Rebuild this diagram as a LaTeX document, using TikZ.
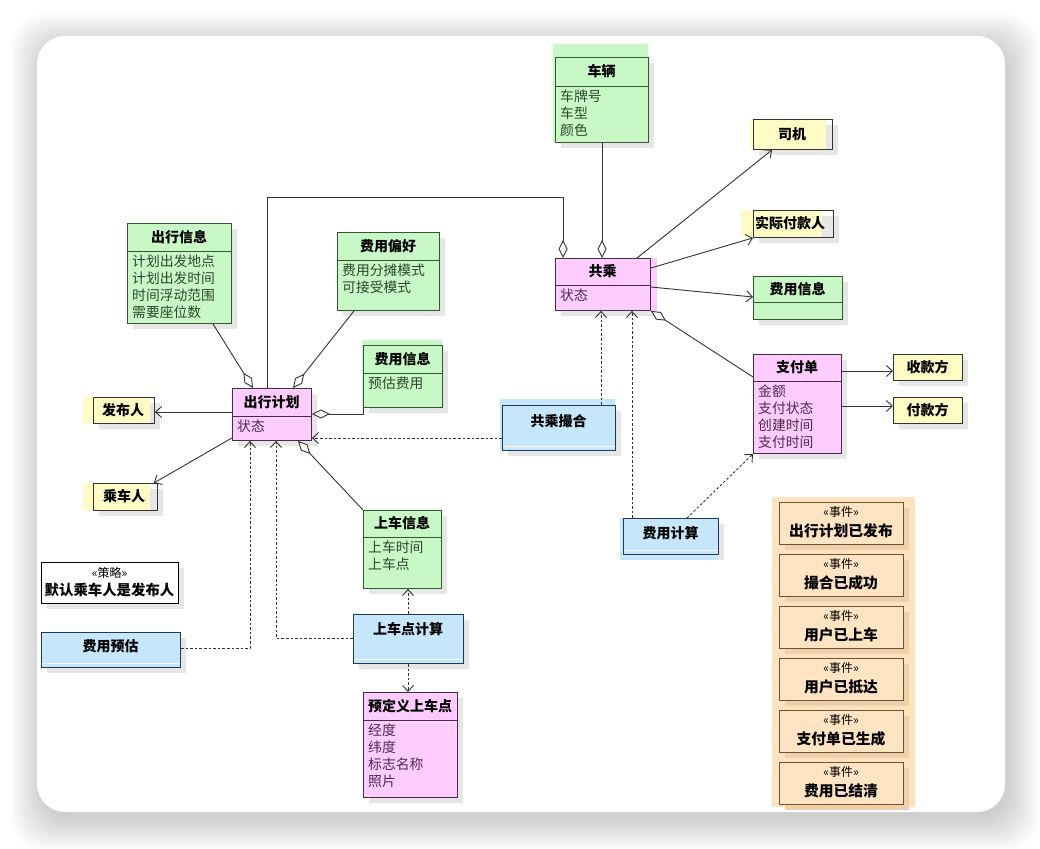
\documentclass[tikz,border=0pt]{standalone}
\usepackage{fontspec}
\setmainfont{Noto Sans CJK SC}
\usetikzlibrary{arrows.meta,calc}
\definecolor{gfill}{HTML}{C8F8C6}
\definecolor{gdraw}{HTML}{2F5A2F}
\definecolor{gtext}{HTML}{2E452E}
\definecolor{pfill}{HTML}{FFCCFF}
\definecolor{pdraw}{HTML}{4A2A4A}
\definecolor{ptext}{HTML}{4A2A4A}
\definecolor{yfill}{HTML}{FEFCC4}
\definecolor{ydraw}{HTML}{333333}
\definecolor{bfill}{HTML}{C6E6FB}
\definecolor{bdraw}{HTML}{1F3A52}
\definecolor{evbg}{HTML}{FFE2BE}
\definecolor{evfill}{HTML}{FFE4C4}
\definecolor{evdraw}{HTML}{6E5236}
\definecolor{evshd}{HTML}{F0D0AA}
\definecolor{shdc}{HTML}{E6E6E6}
\definecolor{lnc}{HTML}{333333}
\tikzset{
  ln/.style={draw=lnc, line width=0.9pt},
  arr/.style={ln, -{Straight Barb[length=6pt,width=11pt]}},
  dep/.style={arr, dash pattern=on 2.6pt off 2pt},
  aggend/.style={ln, -{Diamond[fill=white,length=18pt,width=9pt]}},
  aggstart/.style={ln, {Diamond[fill=white,length=18pt,width=9pt]}-},
  box/.style={anchor=north west, inner sep=0pt, line width=0.9pt},
  hdr/.style={font=\bfseries\fontsize{14}{16}\selectfont, text=black, inner sep=0pt},
  bighdr/.style={font=\bfseries\fontsize{14.8}{17}\selectfont, text=black, inner sep=0pt},
  attr/.style={font=\fontsize{13.8}{17}\selectfont, align=left, inner sep=0pt, anchor=north west},
  stereo/.style={font=\fontsize{12}{13}\selectfont, text=black, inner sep=0pt},
}
\newcommand\shd[5][shdc]{\fill[#1] ({#2+6},{#3+6}) rectangle ({#4+6},{#5+6});}
\newcommand\ubox[7]{\shd{#2}{#3}{#4}{#5}%
  \node[box, draw=#7, fill=#6, minimum width={(#4-#2)*1pt}, minimum height={(#5-#3)*1pt}] (#1) at (#2,#3) {};}
\newcommand\usep[3]{\draw[line width=0.8pt, #3] (#1.west |- 0,#2) -- (#1.east |- 0,#2);}
\begin{document}
\begin{tikzpicture}[x=1pt,y=-1pt]
\useasboundingbox (0,0) rectangle (1040,848);
% background and card
\fill[white] (0,0) rectangle (1040,848);
\foreach \e in {0,2,...,30} {
  \fill[black,opacity=0.011,rounded corners=32pt] ({37-\e+4},{36-\e+8}) rectangle ({1005+\e+4},{812+\e+8});
}
\fill[white,rounded corners=28pt] (37,36) rectangle (1005,812);

% ---------- green boxes ----------
\shd{555}{57}{648}{142}
\fill[gfill] (553,44) rectangle (648,142);
\node[box, draw=gdraw, minimum width=93pt, minimum height=85pt] (cheliang) at (555,57) {};
\usep{cheliang}{86}{gdraw}
\node[hdr] at (601.5,71.5) {车辆};
\node[attr, text=gtext] at (560,90) {车牌号\\车型\\颜色};

\ubox{chuxinfo}{127}{223}{231}{323}{gfill}{gdraw}
\usep{chuxinfo}{251}{gdraw}
\node[hdr] at (179,237) {出行信息};
\node[attr, text=gtext] at (132,255) {计划出发地点\\计划出发时间\\时间浮动范围\\需要座位数};

\ubox{pref}{337}{232}{439}{310}{gfill}{gdraw}
\usep{pref}{260}{gdraw}
\node[hdr] at (388,246) {费用偏好};
\node[attr, text=gtext] at (342,264) {费用分摊模式\\可接受模式};

\shd{363}{345}{442}{407}
\fill[gfill] (362,340) rectangle (442,407);
\node[box, draw=gdraw, minimum width=79pt, minimum height=62pt] (feeL) at (363,345) {};
\usep{feeL}{373}{gdraw}
\node[hdr] at (402.5,359) {费用信息};
\node[attr, text=gtext] at (368,377) {预估费用};

\ubox{boarding}{363}{510}{441}{588}{gfill}{gdraw}
\usep{boarding}{537}{gdraw}
\node[hdr] at (402,523.5) {上车信息};
\node[attr, text=gtext] at (368,541) {上车时间\\上车点};

\ubox{feeR}{753}{276}{842}{319}{gfill}{gdraw}
\usep{feeR}{302}{gdraw}
\node[hdr] at (797.5,289) {费用信息};

% ---------- pink boxes ----------
\ubox{plan}{232}{388}{311}{440}{pfill}{pdraw}
\usep{plan}{416}{pdraw}
\node[hdr] at (271.5,402) {出行计划};
\node[attr, text=ptext] at (237,420) {状态};

\shd{555}{258}{650}{310}
\fill[pfill] (555,258) rectangle (657,311);
\node[box, draw=pdraw, minimum width=95pt, minimum height=52pt] (gc) at (555,258) {};
\usep{gc}{285}{pdraw}
\node[hdr] at (602.5,271.5) {共乘};
\node[attr, text=ptext] at (560,289) {状态};

\ubox{pay}{753}{354}{841}{453}{pfill}{pdraw}
\usep{pay}{381}{pdraw}
\node[hdr] at (797,367.5) {支付单};
\node[attr, text=ptext] at (758,385) {金额\\支付状态\\创建时间\\支付时间};

\ubox{predef}{363}{692}{457}{797}{pfill}{pdraw}
\usep{predef}{720}{pdraw}
\node[hdr] at (410,706) {预定义上车点};
\node[attr, text=ptext] at (368,724) {经度\\纬度\\标志名称\\照片};

% ---------- yellow boxes ----------
\shd{753}{119}{832}{149}
\fill[yfill] (750,119) rectangle (826,149);
\node[box, draw=ydraw, minimum width=79pt, minimum height=30pt] (siji) at (753,119) {};
\node[hdr] at (792,134) {司机};

\shd{753}{210}{833}{237}
\fill[yfill] (741,210) rectangle (822,237);
\node[box, draw=ydraw, minimum width=80pt, minimum height=27pt] (payer) at (753,210) {};
\node[hdr] at (790,223.5) {实际付款人};

\shd{93}{397}{154}{423}
\fill[yfill] (83,397) rectangle (150,423);
\node[box, draw=ydraw, minimum width=61pt, minimum height=26pt] (fabu) at (93,397) {};
\node[hdr] at (123,410) {发布人};

\shd{93}{483}{157}{510}
\fill[yfill] (83,483) rectangle (150,510);
\node[box, draw=ydraw, minimum width=64pt, minimum height=27pt] (chengche) at (93,483) {};
\node[hdr] at (124,496.5) {乘车人};

\ubox{shoukuan}{893}{354}{962}{380}{yfill}{ydraw}
\node[hdr] at (927.5,367) {收款方};
\ubox{fukuan}{893}{397}{962}{423}{yfill}{ydraw}
\node[hdr] at (927.5,410) {付款方};

% ---------- blue boxes ----------
\shd{502}{405}{615}{450}
\fill[bfill] (500,399) rectangle (615,450);
\node[box, draw=bdraw, minimum width=113pt, minimum height=45pt] (match) at (502,405) {};
\draw[white, line width=0.8pt] (503,446.5) -- (614,446.5);
\node[hdr] at (558.5,421) {共乘撮合};

\shd{623}{518}{718}{554}
\fill[bfill] (620,518) rectangle (718,560);
\node[box, draw=bdraw, minimum width=95pt, minimum height=36pt] (feecalc) at (623,518) {};
\draw[white, line width=0.8pt] (624,550.5) -- (717,550.5);
\node[hdr] at (670.5,533) {费用计算};

\ubox{pickcalc}{353}{614}{463}{663}{bfill}{bdraw}
\draw[white, line width=0.8pt] (354,659.5) -- (462,659.5);
\node[hdr] at (408,629) {上车点计算};

\ubox{feeest}{41}{632}{180}{667}{bfill}{bdraw}
\draw[white, line width=0.8pt] (42,663.5) -- (179,663.5);
\node[hdr] at (110.5,646) {费用预估};

% ---------- strategy ----------
\ubox{strategy}{41}{562}{178}{603}{white}{black}
\node[stereo] at (109.5,573) {«策略»};
\node[bighdr, font=\bfseries\fontsize{14.4}{17}\selectfont] at (109.5,590) {默认乘车人是发布人};

% ---------- events ----------
\fill[evbg] (772,497) rectangle (915,807);
\foreach \n [count=\i] in {出行计划已发布,撮合已成功,用户已上车,用户已抵达,支付单已生成,费用已结清} {
  \pgfmathsetmacro\ya{502+52*(\i-1)}
  \pgfmathsetmacro\yb{\ya+42}
  \shd[evshd]{779}{\ya}{903}{\yb}
  \node[box, draw=evdraw, fill=evfill, minimum width=124pt, minimum height=42pt] (ev\i) at (779,\ya) {};
  \node[stereo] at (841,{\ya+10}) {«事件»};
  \node[bighdr] at (841,{\ya+29}) {\n};
}

% ---------- connectors ----------
\draw[aggend] (plan.north -| 267,0) -- (267,197) -- (563,197) -- (gc.north -| 563,0);
\draw[aggend] (cheliang.south -| 602,0) -- (gc.north -| 602,0);
\draw[aggend] (chuxinfo.south -| 213,0) -- (plan.north -| 253,0);
\draw[aggend] (pref.south -| 354,0) -- (plan.north -| 293,0);
\draw[aggend] (feeL.south west) -- (feeL.west |- 0,414) -- (plan.east |- 0,414);
\draw[aggend] (boarding.north west) -- (plan.south -| 298,0);
\draw[arr] (plan.west |- 0,412) -- (fabu.east |- 0,412);
\draw[arr] ($(plan.south west)+(0,-3)$) -- ($(chengche.north east)+(-4,0)$);
\draw[dep] (match.west |- 0,438) -- (plan.east |- 0,438);
\draw[dep] (pickcalc.west |- 0,638) -| (plan.south -| 276,0);
\draw[dep] (feeest.east |- 0,648) -| (plan.south -| 250,0);
\draw[dep] (pickcalc.north -| 408,0) -- (boarding.south -| 408,0);
\draw[dep] (pickcalc.south -| 408,0) -- (predef.north -| 408,0);
\draw[dep] (match.north -| 601,0) -- (gc.south -| 601,0);
\draw[dep] (feecalc.north -| 632,0) -- (gc.south -| 632,0);
\draw[dep] (feecalc.north -| 687,0) -- (pay.south west);
\draw[arr] (gc.north -| 637,0) -- (siji.south -| 772,0);
\draw[arr] (gc.east |- 0,268) -- (payer.south west);
\draw[arr] (gc.east |- 0,287) -- (feeR.west |- 0,297);
\draw[aggstart] (gc.south east) -- (pay.west |- 0,377);
\draw[arr] (pay.east |- 0,371) -- (shoukuan.west |- 0,371);
\draw[arr] (pay.east |- 0,406) -- (fukuan.west |- 0,406);
\end{tikzpicture}
\end{document}
